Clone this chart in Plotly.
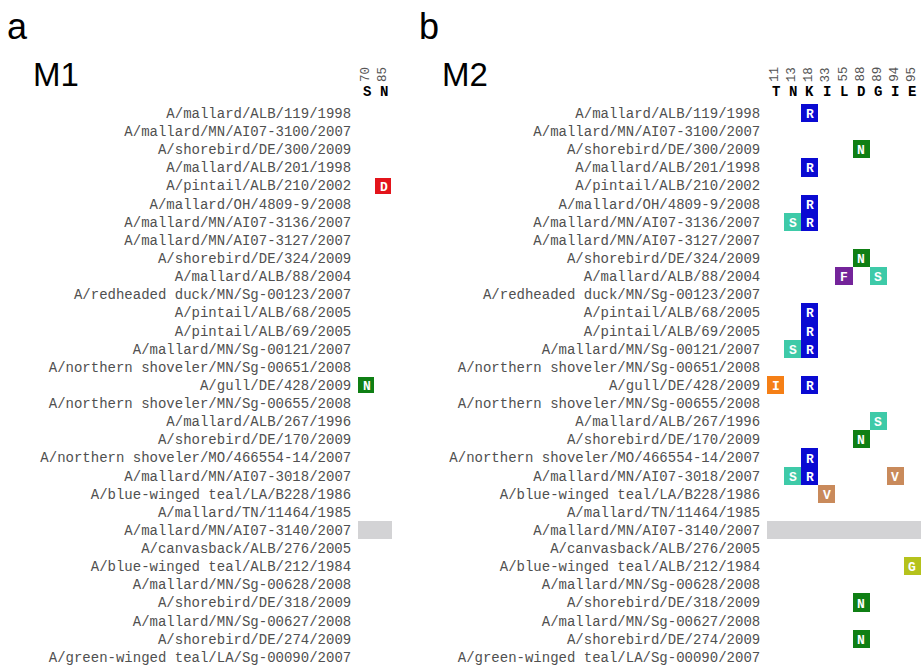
import plotly.graph_objects as go

# ---------------- data ----------------
strains = [
    "A/mallard/ALB/119/1998",
    "A/mallard/MN/AI07-3100/2007",
    "A/shorebird/DE/300/2009",
    "A/mallard/ALB/201/1998",
    "A/pintail/ALB/210/2002",
    "A/mallard/OH/4809-9/2008",
    "A/mallard/MN/AI07-3136/2007",
    "A/mallard/MN/AI07-3127/2007",
    "A/shorebird/DE/324/2009",
    "A/mallard/ALB/88/2004",
    "A/redheaded duck/MN/Sg-00123/2007",
    "A/pintail/ALB/68/2005",
    "A/pintail/ALB/69/2005",
    "A/mallard/MN/Sg-00121/2007",
    "A/northern shoveler/MN/Sg-00651/2008",
    "A/gull/DE/428/2009",
    "A/northern shoveler/MN/Sg-00655/2008",
    "A/mallard/ALB/267/1996",
    "A/shorebird/DE/170/2009",
    "A/northern shoveler/MO/466554-14/2007",
    "A/mallard/MN/AI07-3018/2007",
    "A/blue-winged teal/LA/B228/1986",
    "A/mallard/TN/11464/1985",
    "A/mallard/MN/AI07-3140/2007",
    "A/canvasback/ALB/276/2005",
    "A/blue-winged teal/ALB/212/1984",
    "A/mallard/MN/Sg-00628/2008",
    "A/shorebird/DE/318/2009",
    "A/mallard/MN/Sg-00627/2008",
    "A/shorebird/DE/274/2009",
    "A/green-winged teal/LA/Sg-00090/2007",
]

missing_strains = ["A/mallard/MN/AI07-3140/2007"]

# M1
m1_positions = ["70", "85"]
m1_consensus = ["S", "N"]
m1_mut_strain = ["A/pintail/ALB/210/2002", "A/gull/DE/428/2009"]
m1_mut_pos = ["85", "70"]
m1_mut_aa = ["D", "N"]

# M2
m2_positions = ["11", "13", "18", "33", "55", "88", "89", "94", "95"]
m2_consensus = ["T", "N", "K", "I", "L", "D", "G", "I", "E"]
m2_mut_strain = [
    "A/mallard/ALB/119/1998",
    "A/shorebird/DE/300/2009",
    "A/mallard/ALB/201/1998",
    "A/mallard/OH/4809-9/2008",
    "A/mallard/MN/AI07-3136/2007",
    "A/mallard/MN/AI07-3136/2007",
    "A/shorebird/DE/324/2009",
    "A/mallard/ALB/88/2004",
    "A/mallard/ALB/88/2004",
    "A/pintail/ALB/68/2005",
    "A/pintail/ALB/69/2005",
    "A/mallard/MN/Sg-00121/2007",
    "A/mallard/MN/Sg-00121/2007",
    "A/gull/DE/428/2009",
    "A/gull/DE/428/2009",
    "A/mallard/ALB/267/1996",
    "A/shorebird/DE/170/2009",
    "A/northern shoveler/MO/466554-14/2007",
    "A/mallard/MN/AI07-3018/2007",
    "A/mallard/MN/AI07-3018/2007",
    "A/mallard/MN/AI07-3018/2007",
    "A/blue-winged teal/LA/B228/1986",
    "A/blue-winged teal/ALB/212/1984",
    "A/shorebird/DE/318/2009",
    "A/shorebird/DE/274/2009",
]
m2_mut_pos = ["18", "88", "18", "18", "13", "18", "88", "55", "89", "18", "18", "13", "18",
              "11", "18", "89", "88", "18", "13", "18", "94", "33", "95", "88", "88"]
m2_mut_aa = ["R", "N", "R", "R", "S", "R", "N", "F", "S", "R", "R", "S", "R",
             "I", "R", "S", "N", "R", "S", "R", "V", "V", "G", "N", "N"]

# ---------------- style ----------------
aa_colors = {
    "R": "#0a0ad2",
    "S": "#3ecaa8",
    "N": "#0f7f14",
    "F": "#74249a",
    "I": "#f57f16",
    "V": "#c98a5b",
    "G": "#b5c21c",
    "D": "#e3141b",
}
missing_color = "#d3d3d5"
W, H = 922, 667
TOP, BOT = 104, 1
plot_h = H - TOP - BOT

MONO = "Courier New, Liberation Mono, monospace"
SANS = "Arial, Liberation Sans, sans-serif"

def px_to_paper_y(py):
    return (H - BOT - py) / plot_h

fig = go.Figure()

def add_panel(positions, mut_strain, mut_pos, mut_aa, xa, ya, xgap, ygap):
    n_rows, n_cols = len(strains), len(positions)
    xs = list(range(n_cols))
    ys = list(range(n_rows))
    # missing rows (gray band)
    zmiss = [[1 if s in missing_strains else None for _ in xs] for s in strains]
    fig.add_trace(go.Heatmap(
        x=xs, y=ys, z=zmiss, colorscale=[[0, missing_color], [1, missing_color]],
        zmin=0, zmax=1, showscale=False, hoverinfo="skip", xaxis=xa, yaxis=ya))
    for aa in sorted(set(mut_aa)):
        z = [[None] * n_cols for _ in ys]
        t = [[""] * n_cols for _ in ys]
        for s, p, a in zip(mut_strain, mut_pos, mut_aa):
            if a != aa:
                continue
            r = strains.index(s)
            c = positions.index(p)
            z[r][c] = 1
            t[r][c] = a
        fig.add_trace(go.Heatmap(
            x=xs, y=ys, z=z, text=t, texttemplate="<b>%{text}</b>",
            textfont=dict(family=MONO, size=13, color="white"),
            colorscale=[[0, aa_colors[aa]], [1, aa_colors[aa]]],
            zmin=0, zmax=1, showscale=False, xgap=xgap, ygap=ygap,
            hoverinfo="skip", xaxis=xa, yaxis=ya))

add_panel(m1_positions, m1_mut_strain, m1_mut_pos, m1_mut_aa, "x", "y", 1, 2)
add_panel(m2_positions, m2_mut_strain, m2_mut_pos, m2_mut_aa, "x2", "y2", 0, 0)

yaxis_common = dict(
    tickmode="array", tickvals=list(range(len(strains))), ticktext=strains,
    range=[len(strains) - 0.5, -0.5], showgrid=False, zeroline=False, showline=False,
    ticks="outside", ticklen=3, tickcolor="rgba(0,0,0,0)",
    tickfont=dict(family=MONO, size=14, color="#505050"),
    domain=[0, 1], fixedrange=True,
)

fig.update_layout(
    width=W, height=H,
    margin=dict(l=0, r=0, t=TOP, b=BOT, autoexpand=False),
    paper_bgcolor="white", plot_bgcolor="white",
    showlegend=False,
    xaxis=dict(domain=[358 / W, 392 / W], range=[-0.5, len(m1_positions) - 0.5],
               visible=False, fixedrange=True),
    yaxis=dict(anchor="x", **yaxis_common),
    xaxis2=dict(domain=[767 / W, 921 / W], range=[-0.5, len(m2_positions) - 0.5],
                visible=False, fixedrange=True),
    yaxis2=dict(anchor="x2", **yaxis_common),
)

ann = []
for xref, positions, cons in [("x", m1_positions, m1_consensus), ("x2", m2_positions, m2_consensus)]:
    for i, (p, c) in enumerate(zip(positions, cons)):
        ann.append(dict(x=i, y=px_to_paper_y(74.5), xref=xref, yref="paper", text=p,
                        textangle=-90, showarrow=False, xanchor="center", yanchor="middle",
                        font=dict(family=MONO, size=12.5, color="#555555")))
        ann.append(dict(x=i, y=px_to_paper_y(92), xref=xref, yref="paper", text="<b>" + c + "</b>",
                        showarrow=False, xanchor="center", yanchor="middle",
                        font=dict(family=MONO, size=14, color="black")))

for label, px, py, size in [("a", 5, 27, 36), ("b", 417, 27, 36), ("M1", 31, 74, 33), ("M2", 440, 74, 33)]:
    ann.append(dict(x=px / W, y=px_to_paper_y(py), xref="paper", yref="paper", text=label,
                    showarrow=False, xanchor="left", yanchor="middle",
                    font=dict(family=SANS, size=size, color="black")))

fig.update_layout(annotations=ann)
fig.write_html(
    "out.html",
    config={"displayModeBar": False},
    post_script="document.body.style.margin='0';document.body.style.overflow='hidden';",
)
